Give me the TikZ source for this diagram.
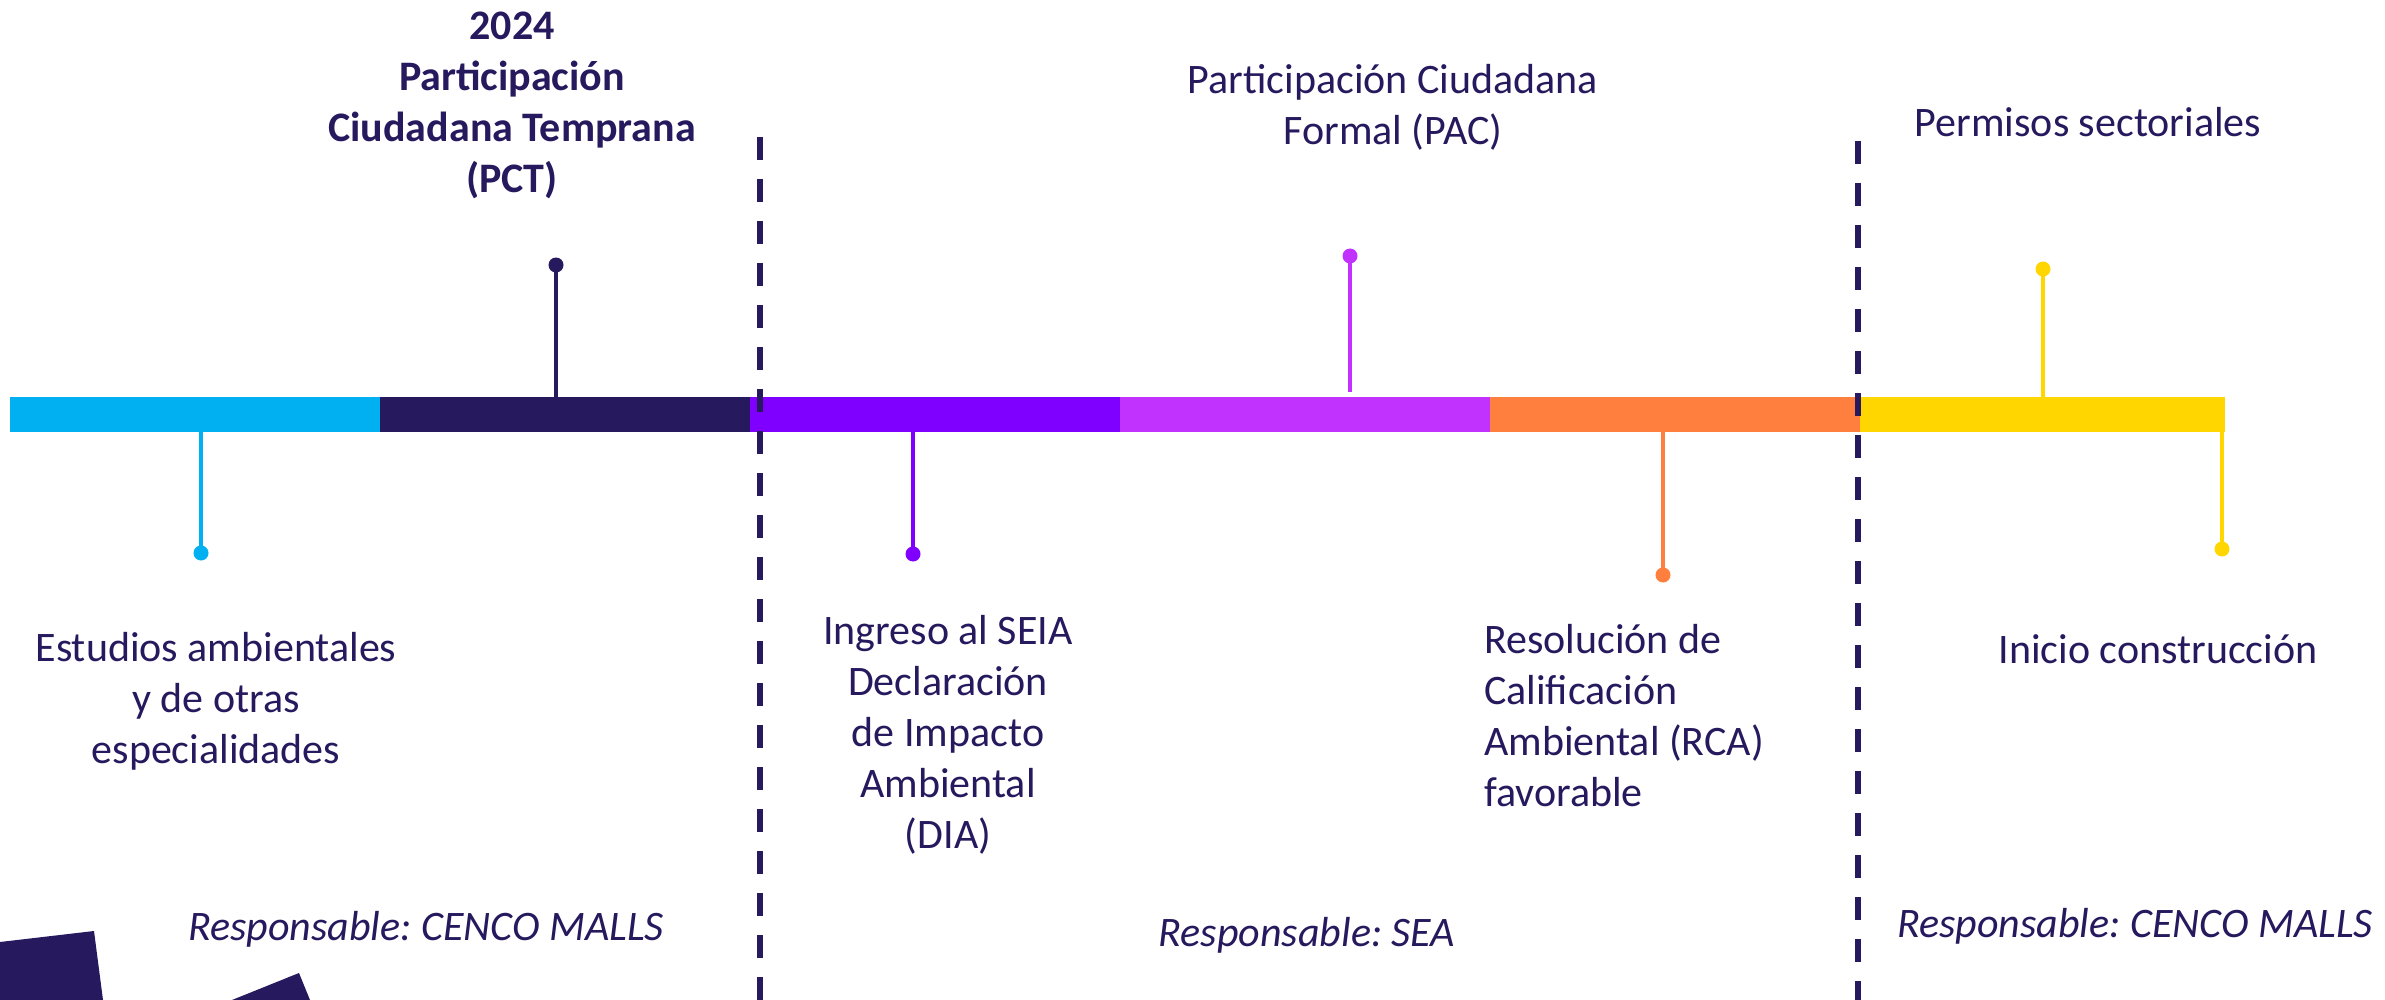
\documentclass[tikz,border=0pt]{standalone}
\usepackage{fontspec}
\setmainfont{Carlito}
\definecolor{navy}{RGB}{38,25,94}
\definecolor{cyanc}{RGB}{0,176,240}
\definecolor{purplec}{RGB}{128,0,255}
\definecolor{lilac}{RGB}{193,50,255}
\definecolor{orangec}{RGB}{255,127,63}
\definecolor{yellowc}{RGB}{255,214,0}
\frenchspacing
\begin{document}
\begin{tikzpicture}[x=1pt,y=-1pt,
  seg/.style={rectangle, inner sep=0pt, outer sep=0pt, minimum height=35pt, anchor=west},
  dot/.style={circle, inner sep=0pt, outer sep=0pt, minimum size=15pt},
  stem/.style={line width=4pt},
  divider/.style={line width=6pt, draw=navy, dash pattern=on 23pt off 19pt},
  lbl/.style={text=navy, font=\fontsize{42}{51}\selectfont, align=center, anchor=base, inner sep=0pt},
  decoshape/.style={fill=navy}]
\useasboundingbox (0,0) rectangle (2385,1000);
\fill[white] (0,0) rectangle (2385,1000);
% decorative shapes
\fill[decoshape] (0,942) -- (94,931) -- (103,1000) -- (0,1000) -- cycle;
\fill[decoshape] (232,1000) -- (299,973) -- (310,1000) -- cycle;
% bar
\node[seg, fill=cyanc, minimum width=370pt] (s1) at (10,414.5) {};
\node[seg, fill=navy, minimum width=370pt] (s2) at (380,414.5) {};
\node[seg, fill=purplec, minimum width=370pt] (s3) at (750,414.5) {};
\node[seg, fill=lilac, minimum width=370pt] (s4) at (1120,414.5) {};
\node[seg, fill=orangec, minimum width=370pt] (s5) at (1490,414.5) {};
\node[seg, fill=yellowc, minimum width=365pt] (s6) at (1860,414.5) {};
% dividers
\coordinate (v1t) at (760,137);
\coordinate (v1b) at (760,1000);
\coordinate (v2t) at (1858,141);
\coordinate (v2b) at (1858,1000);
\draw[divider] (v1t) -- (v1b);
\draw[divider] (v2t) -- (v2b);
% milestones
\node[dot, fill=cyanc] (d1) at (201,553) {};
\draw[stem, cyanc] (d1.center) -- (d1.center |- s1.south);
\node[dot, fill=navy] (d2) at (556,265) {};
\draw[stem, navy] (d2.center) -- (d2.center |- s2.north);
\node[dot, fill=purplec] (d3) at (913,554) {};
\draw[stem, purplec] (d3.center) -- (d3.center |- s3.south);
\node[dot, fill=lilac] (d4) at (1350,256) {};
\coordinate (e4) at (1350,392);
\draw[stem, lilac] (d4.center) -- (e4);
\node[dot, fill=orangec] (d5) at (1663,575) {};
\draw[stem, orangec] (d5.center) -- (d5.center |- s5.south);
\node[dot, fill=yellowc] (d6) at (2043,269) {};
\draw[stem, yellowc] (d6.center) -- (d6.center |- s6.north);
\node[dot, fill=yellowc] (d7) at (2222,549) {};
\draw[stem, yellowc] (d7.center) -- (d7.center |- s6.south);
% labels (anchor = baseline of last line)
\node[lbl, font=\fontsize{42}{51}\selectfont\bfseries] (tpct) at (512,193) {2024\\Participación\\Ciudadana Temprana\\(PCT)};
\node[lbl] (test) at (216,763) {Estudios ambientales\\y de otras\\especialidades};
\node[lbl] (ting) at (948,848) {Ingreso al SEIA\\Declaración\\de Impacto\\Ambiental\\(DIA)};
\node[lbl] (tpac) at (1393,145) {Participación Ciudadana\\Formal (PAC)};
\node[lbl, align=left, anchor=base west] (trca) at (1484,806) {Resolución de\\Calificación\\Ambiental (RCA)\\favorable};
\node[lbl] (tper) at (2088,137) {Permisos sectoriales};
\node[lbl] (tini) at (2158,663) {Inicio construcción};
\node[lbl, font=\fontsize{42}{51}\selectfont\itshape] (r1) at (426,940) {Responsable: CENCO MALLS};
\node[lbl, font=\fontsize{42}{51}\selectfont\itshape] (r2) at (1307,946) {Responsable: SEA};
\node[lbl, font=\fontsize{42}{51}\selectfont\itshape] (r3) at (2135,937) {Responsable: CENCO MALLS};
\end{tikzpicture}
\end{document}
